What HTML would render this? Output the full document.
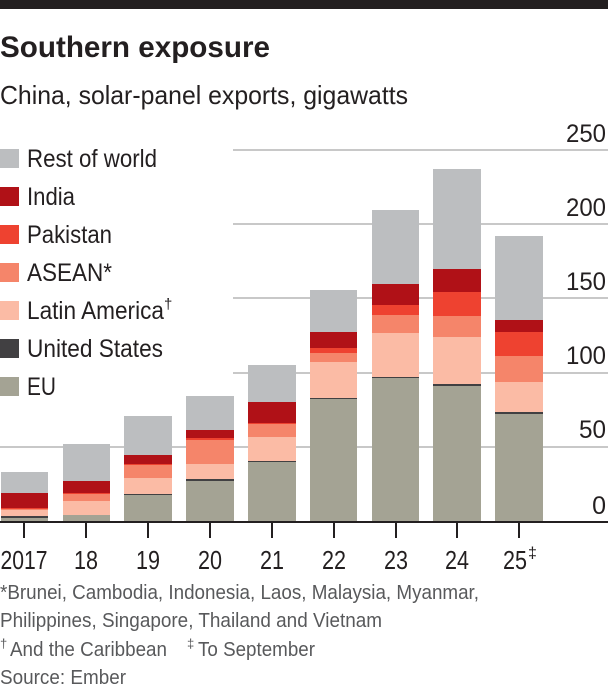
<!DOCTYPE html>
<html><head><meta charset="utf-8"><style>
body{margin:0;background:#fff;}
svg{display:block;}
text{font-family:"Liberation Sans",sans-serif;}
</style></head><body>
<svg width="608" height="691" viewBox="0 0 608 691" xmlns="http://www.w3.org/2000/svg">
<rect x="0" y="0" width="608" height="9" fill="#231f20"/>
<text x="0" y="57" font-size="30" font-weight="bold" fill="#231f20" textLength="270" lengthAdjust="spacingAndGlyphs">Southern exposure</text>
<text x="0" y="104" font-size="26" fill="#231f20" textLength="408" lengthAdjust="spacingAndGlyphs">China, solar-panel exports, gigawatts</text>
<g stroke="#c8c8c8" stroke-width="2">
<line x1="233" y1="150" x2="608" y2="150"/>
<line x1="233" y1="224" x2="608" y2="224"/>
<line x1="233" y1="298" x2="608" y2="298"/>
<line x1="233" y1="373" x2="608" y2="373"/>
<line x1="0" y1="447" x2="608" y2="447"/>
</g>
<g font-size="25" fill="#231f20" text-anchor="end">
<text x="606" y="142" textLength="40" lengthAdjust="spacingAndGlyphs">250</text>
<text x="606" y="216" textLength="40" lengthAdjust="spacingAndGlyphs">200</text>
<text x="606" y="290" textLength="40" lengthAdjust="spacingAndGlyphs">150</text>
<text x="606" y="364" textLength="40" lengthAdjust="spacingAndGlyphs">100</text>
<text x="606" y="438" textLength="27" lengthAdjust="spacingAndGlyphs">50</text>
<text x="606" y="514">0</text>
</g>
<g font-size="25" fill="#231f20">
<rect x="0" y="149" width="19" height="19" fill="#bcbec0"/><text x="27" y="167" textLength="130" lengthAdjust="spacingAndGlyphs">Rest of world</text>
<rect x="0" y="187" width="19" height="19" fill="#b01117"/><text x="27" y="205" textLength="48" lengthAdjust="spacingAndGlyphs">India</text>
<rect x="0" y="225" width="19" height="19" fill="#ee4230"/><text x="27" y="243" textLength="85" lengthAdjust="spacingAndGlyphs">Pakistan</text>
<rect x="0" y="263" width="19" height="19" fill="#f5856a"/><text x="27" y="281" textLength="85" lengthAdjust="spacingAndGlyphs">ASEAN*</text>
<rect x="0" y="301" width="19" height="19" fill="#fbbba5"/><text x="27" y="319" textLength="137" lengthAdjust="spacingAndGlyphs">Latin America</text><text x="164" y="309" font-size="15">†</text>
<rect x="0" y="339" width="19" height="19" fill="#414042"/><text x="27" y="357" textLength="136" lengthAdjust="spacingAndGlyphs">United States</text>
<rect x="0" y="377" width="19" height="19" fill="#a4a394"/><text x="27" y="395" textLength="29" lengthAdjust="spacingAndGlyphs">EU</text>
</g>
<g id="bars">
<rect x="1" y="472" width="47" height="49" fill="#bcbec0"/>
<rect x="1" y="493" width="47" height="15" fill="#b01117"/>
<rect x="1" y="508" width="47" height="1" fill="#ee4230"/>
<rect x="1" y="509" width="47" height="1" fill="#f5856a"/>
<rect x="1" y="510" width="47" height="6" fill="#fbbba5"/>
<rect x="1" y="516" width="47" height="2" fill="#414042"/>
<rect x="1" y="518" width="47" height="3" fill="#a4a394"/>
<rect x="63" y="444" width="47" height="77" fill="#bcbec0"/>
<rect x="63" y="481" width="47" height="12" fill="#b01117"/>
<rect x="63" y="493" width="47" height="1" fill="#ee4230"/>
<rect x="63" y="494" width="47" height="7" fill="#f5856a"/>
<rect x="63" y="501" width="47" height="14" fill="#fbbba5"/>
<rect x="63" y="515" width="47" height="6" fill="#a4a394"/>
<rect x="124" y="416" width="48" height="105" fill="#bcbec0"/>
<rect x="124" y="455" width="48" height="9" fill="#b01117"/>
<rect x="124" y="464" width="48" height="1" fill="#ee4230"/>
<rect x="124" y="465" width="48" height="13" fill="#f5856a"/>
<rect x="124" y="478" width="48" height="16" fill="#fbbba5"/>
<rect x="124" y="494" width="48" height="1" fill="#414042"/>
<rect x="124" y="495" width="48" height="26" fill="#a4a394"/>
<rect x="186" y="396" width="48" height="125" fill="#bcbec0"/>
<rect x="186" y="430" width="48" height="8" fill="#b01117"/>
<rect x="186" y="438" width="48" height="2" fill="#ee4230"/>
<rect x="186" y="440" width="48" height="24" fill="#f5856a"/>
<rect x="186" y="464" width="48" height="15" fill="#fbbba5"/>
<rect x="186" y="479" width="48" height="2" fill="#414042"/>
<rect x="186" y="481" width="48" height="40" fill="#a4a394"/>
<rect x="248" y="365" width="48" height="156" fill="#bcbec0"/>
<rect x="248" y="402" width="48" height="21" fill="#b01117"/>
<rect x="248" y="423" width="48" height="1" fill="#ee4230"/>
<rect x="248" y="424" width="48" height="13" fill="#f5856a"/>
<rect x="248" y="437" width="48" height="24" fill="#fbbba5"/>
<rect x="248" y="461" width="48" height="1" fill="#414042"/>
<rect x="248" y="462" width="48" height="59" fill="#a4a394"/>
<rect x="310" y="290" width="47" height="231" fill="#bcbec0"/>
<rect x="310" y="332" width="47" height="16" fill="#b01117"/>
<rect x="310" y="348" width="47" height="5" fill="#ee4230"/>
<rect x="310" y="353" width="47" height="9" fill="#f5856a"/>
<rect x="310" y="362" width="47" height="36" fill="#fbbba5"/>
<rect x="310" y="398" width="47" height="1" fill="#414042"/>
<rect x="310" y="399" width="47" height="122" fill="#a4a394"/>
<rect x="372" y="210" width="47" height="311" fill="#bcbec0"/>
<rect x="372" y="284" width="47" height="21" fill="#b01117"/>
<rect x="372" y="305" width="47" height="10" fill="#ee4230"/>
<rect x="372" y="315" width="47" height="18" fill="#f5856a"/>
<rect x="372" y="333" width="47" height="44" fill="#fbbba5"/>
<rect x="372" y="377" width="47" height="1" fill="#414042"/>
<rect x="372" y="378" width="47" height="143" fill="#a4a394"/>
<rect x="433" y="169" width="48" height="352" fill="#bcbec0"/>
<rect x="433" y="269" width="48" height="23" fill="#b01117"/>
<rect x="433" y="292" width="48" height="24" fill="#ee4230"/>
<rect x="433" y="316" width="48" height="21" fill="#f5856a"/>
<rect x="433" y="337" width="48" height="47" fill="#fbbba5"/>
<rect x="433" y="384" width="48" height="2" fill="#414042"/>
<rect x="433" y="386" width="48" height="135" fill="#a4a394"/>
<rect x="495" y="236" width="48" height="285" fill="#bcbec0"/>
<rect x="495" y="320" width="48" height="12" fill="#b01117"/>
<rect x="495" y="332" width="48" height="24" fill="#ee4230"/>
<rect x="495" y="356" width="48" height="26" fill="#f5856a"/>
<rect x="495" y="382" width="48" height="30" fill="#fbbba5"/>
<rect x="495" y="412" width="48" height="2" fill="#414042"/>
<rect x="495" y="414" width="48" height="107" fill="#a4a394"/>
</g>
<rect x="0" y="521" width="608" height="2" fill="#231f20"/>
<g stroke="#231f20" stroke-width="2">
<line x1="24" y1="523" x2="24" y2="538"/><line x1="86" y1="523" x2="86" y2="538"/>
<line x1="148" y1="523" x2="148" y2="538"/><line x1="210" y1="523" x2="210" y2="538"/>
<line x1="272" y1="523" x2="272" y2="538"/><line x1="334" y1="523" x2="334" y2="538"/>
<line x1="396" y1="523" x2="396" y2="538"/><line x1="457" y1="523" x2="457" y2="538"/>
<line x1="519" y1="523" x2="519" y2="538"/>
</g>
<g font-size="26" fill="#231f20" text-anchor="middle">
<text x="24" y="569" textLength="47" lengthAdjust="spacingAndGlyphs">2017</text>
<text x="86" y="569" textLength="24" lengthAdjust="spacingAndGlyphs">18</text>
<text x="148" y="569" textLength="24" lengthAdjust="spacingAndGlyphs">19</text>
<text x="210" y="569" textLength="24" lengthAdjust="spacingAndGlyphs">20</text>
<text x="272" y="569" textLength="24" lengthAdjust="spacingAndGlyphs">21</text>
<text x="334" y="569" textLength="24" lengthAdjust="spacingAndGlyphs">22</text>
<text x="396" y="569" textLength="24" lengthAdjust="spacingAndGlyphs">23</text>
<text x="457" y="569" textLength="24" lengthAdjust="spacingAndGlyphs">24</text>
<text x="515" y="569" textLength="24" lengthAdjust="spacingAndGlyphs">25</text>
</g>
<text x="528" y="558" font-size="16" fill="#231f20">‡</text>
<g font-size="20" fill="#58595b">
<text x="0" y="599" textLength="479" lengthAdjust="spacingAndGlyphs">*Brunei, Cambodia, Indonesia, Laos, Malaysia, Myanmar,</text>
<text x="0" y="627" textLength="382" lengthAdjust="spacingAndGlyphs">Philippines, Singapore, Thailand and Vietnam</text>
<text x="0" y="648" font-size="13">†</text>
<text x="10" y="656" textLength="157" lengthAdjust="spacingAndGlyphs">And the Caribbean</text>
<text x="187" y="648" font-size="13">‡</text>
<text x="198" y="656" textLength="117" lengthAdjust="spacingAndGlyphs">To September</text>
<text x="0" y="684" textLength="126" lengthAdjust="spacingAndGlyphs">Source: Ember</text>
</g>
</svg>
</body></html>
